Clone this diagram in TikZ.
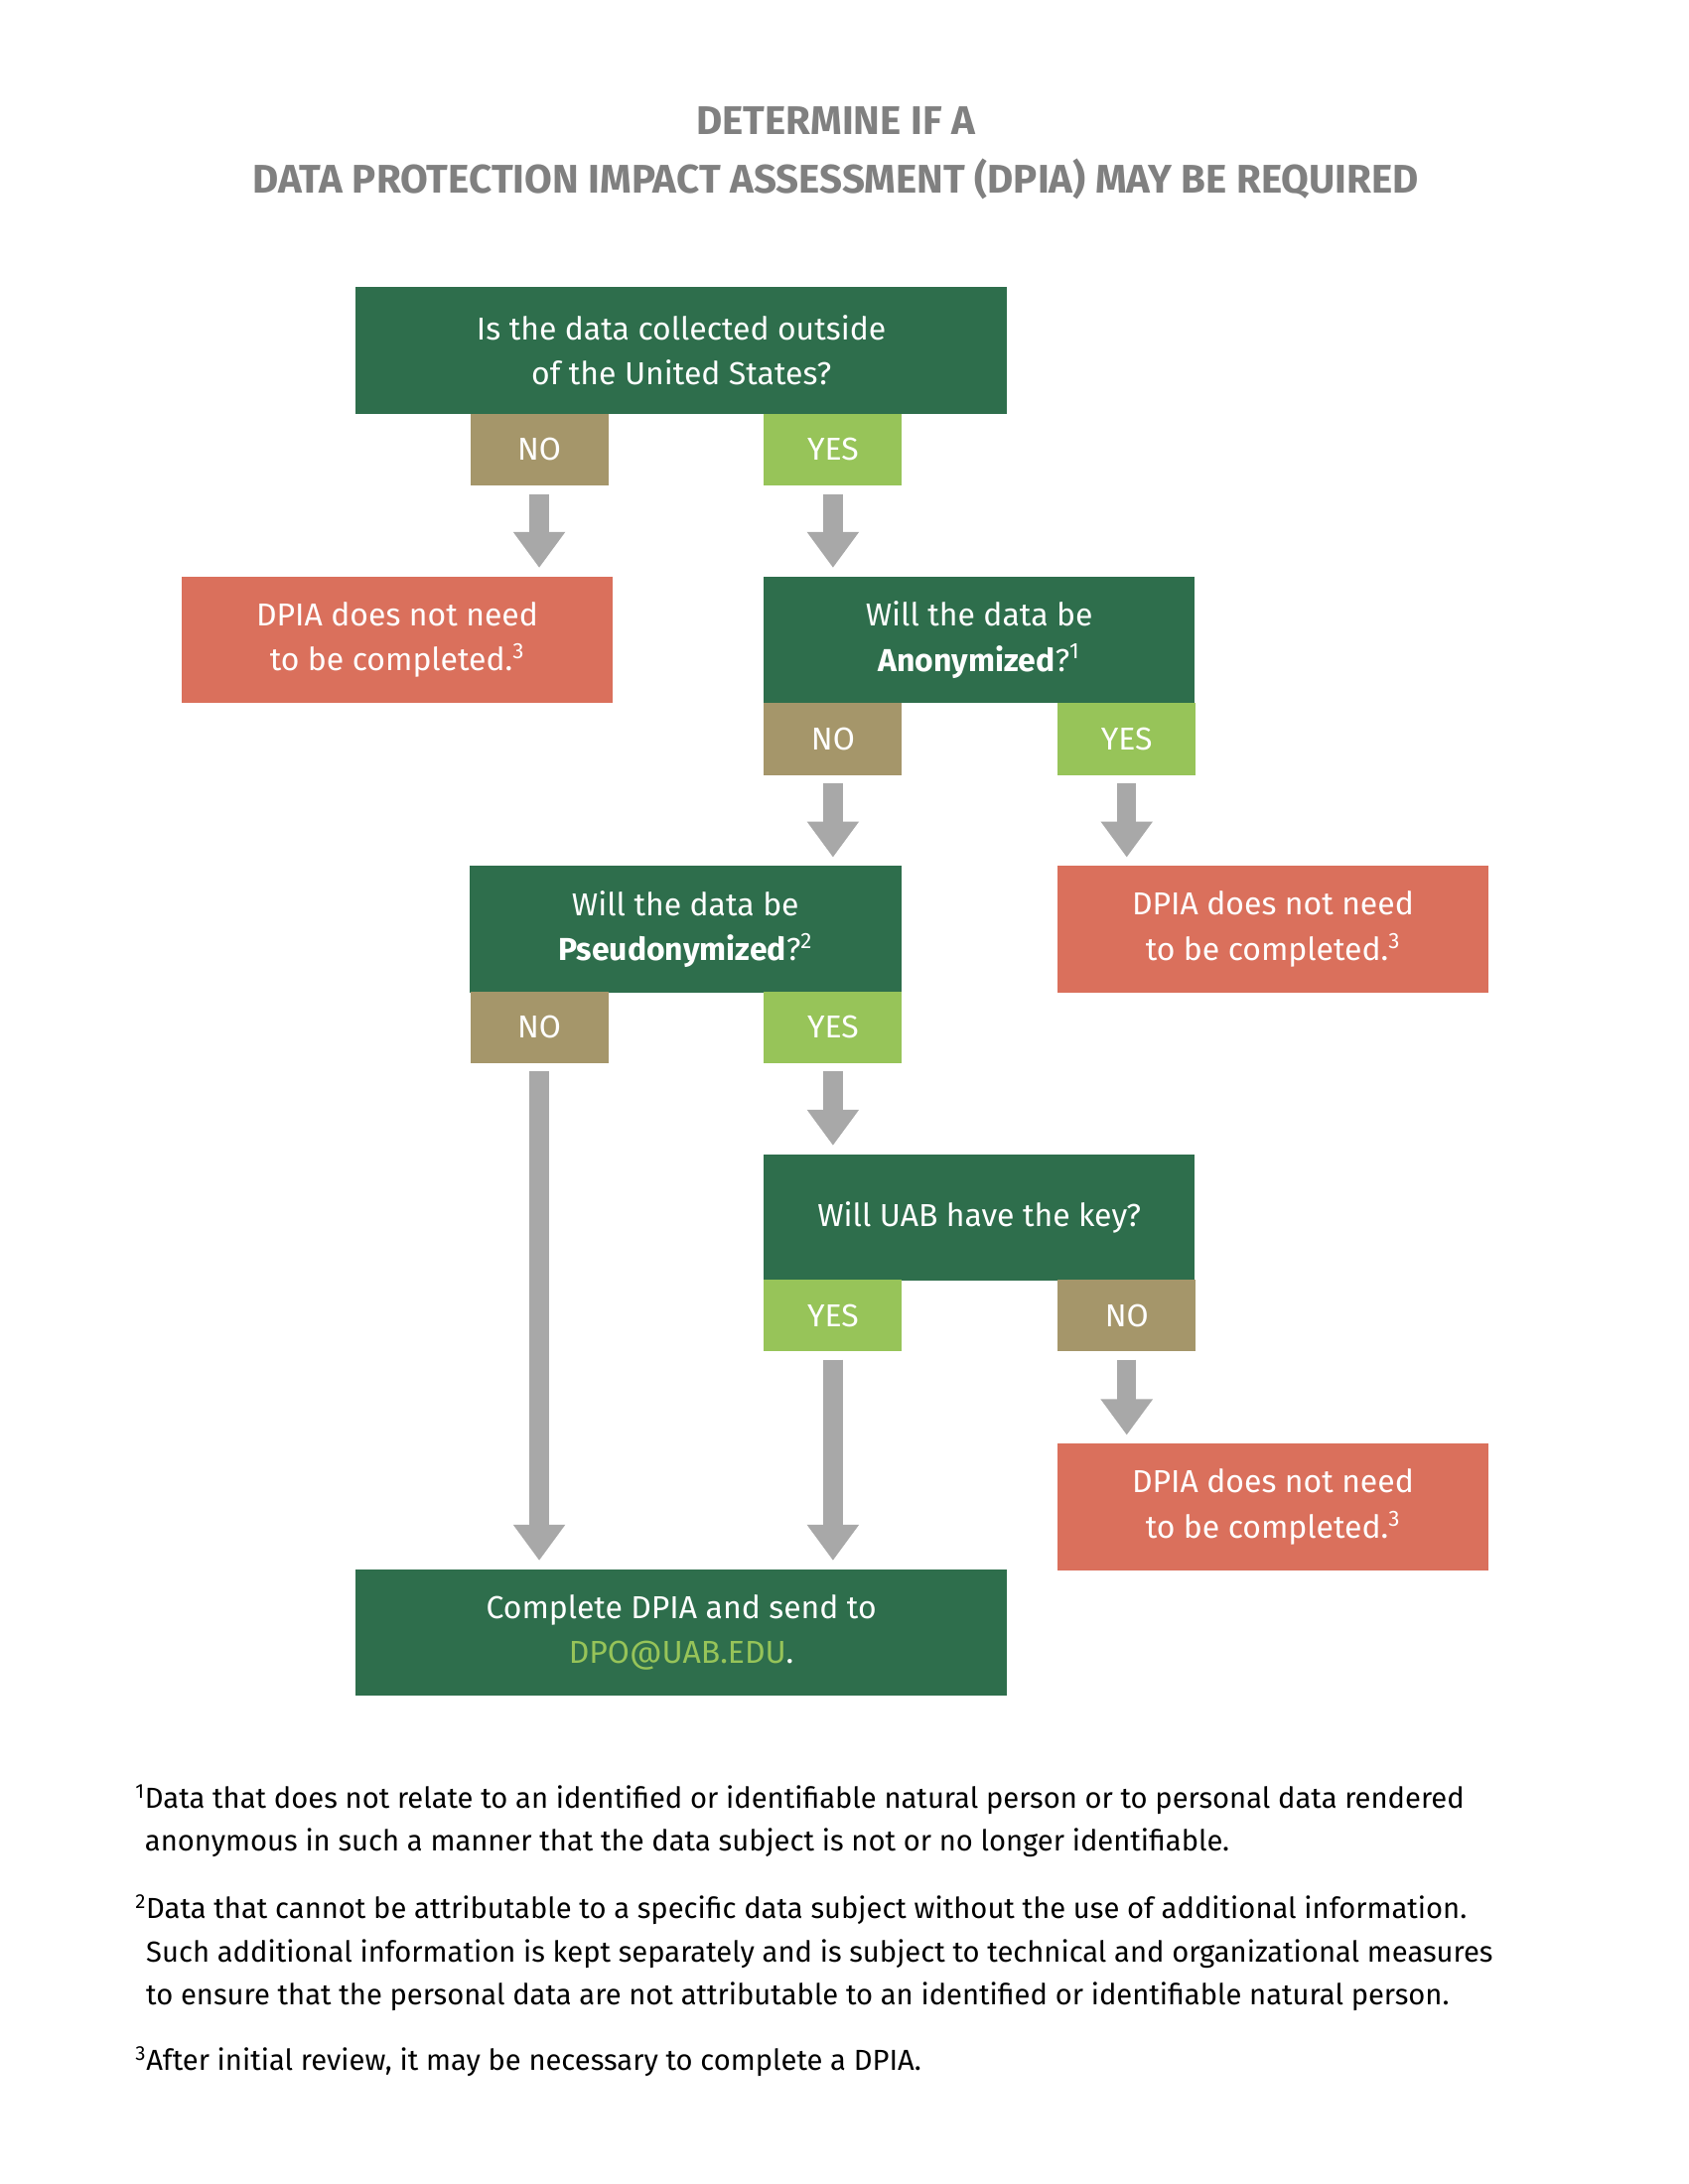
\documentclass[tikz,border=0pt]{standalone}
\usepackage{fontspec}
\setmainfont{Fira Sans}
\usepackage{tikz}
\usetikzlibrary{arrows.meta, positioning, calc}
\definecolor{deepgreen}{HTML}{2E6E4C}
\definecolor{tagtan}{HTML}{A5966A}
\definecolor{taglime}{HTML}{97C459}
\definecolor{stopred}{HTML}{DA705C}
\definecolor{arrowgray}{HTML}{A8A8A8}
\definecolor{titlegray}{HTML}{808080}

\begin{document}
\begin{tikzpicture}[x=1pt, y=-1pt,
    box/.style={rectangle, minimum width=472pt, minimum height=92pt, inner sep=0pt,
      fill=deepgreen, text=white, align=center, font=\fontsize{23}{33}\selectfont},
    ask/.style={box, minimum width=313pt},
    stop/.style={box, minimum width=313pt, fill=stopred},
    tag/.style={rectangle, minimum width=100pt, minimum height=52pt, inner sep=0pt,
      text=white, font=\fontsize{23}{26}\selectfont},
    no/.style={tag, fill=tagtan},
    yes/.style={tag, fill=taglime},
    flow/.style={arrowgray, line width=14pt, -{Triangle[width=36pt, length=26pt]},
      shorten <=6pt, shorten >=6pt},
    note/.style={anchor=north west, align=left, inner sep=0pt, font=\fontsize{21}{31}\selectfont}]

    \useasboundingbox (0,0) rectangle (1224,1584);

    % title
    \node (title) [font=\bfseries\fontsize{29}{42}\selectfont, text=titlegray, align=center] at (606,111)
      {DETERMINE IF A\\DATA PROTECTION IMPACT ASSESSMENT (DPIA) MAY BE REQUIRED};

    % questions
    \node (q1) [box] at (494,254) {Is the data collected outside\\of the United States?};
    \node (q1no) [no] at (391,326) {NO};
    \node (q1yes) [yes] at (604,326) {YES};
    \node (r1) [stop] at (288,464) {DPIA does not need\\to be completed.\textsuperscript{3}};

    \node (q2) [ask] at (710,464) {Will the data be\\\textbf{Anonymized}?\textsuperscript{1}};
    \node (q2no) [no] at (604,536) {NO};
    \node (q2yes) [yes] at (817,536) {YES};
    \node (r2) [stop] at (923,674) {DPIA does not need\\to be completed.\textsuperscript{3}};

    \node (q3) [ask] at (497,674) {Will the data be\\\textbf{Pseudonymized}?\textsuperscript{2}};
    \node (q3no) [no] at (391,745) {NO};
    \node (q3yes) [yes] at (604,745) {YES};

    \node (q4) [ask] at (710,883) {Will UAB have the key?};
    \node (q4yes) [yes] at (604,954) {YES};
    \node (q4no) [no] at (817,954) {NO};
    \node (r3) [stop] at (923,1093) {DPIA does not need\\to be completed.\textsuperscript{3}};

    \node (done) [box] at (494,1184) {Complete DPIA and send to\\\textcolor{taglime}{DPO@UAB.EDU}.};

    % arrows
    \foreach \a/\b in {q1no/r1, q1yes/q2, q2no/q3, q2yes/r2, q3no/done, q3yes/q4, q4yes/done, q4no/r3} {
      \draw [flow] (\a.south) -- (\a.south |- \b.north);
    }

    % footnotes
    \node (n1) [note] at (98,1294) {\textsuperscript{1}Data that does not relate to an identified or identifiable natural person or to personal data rendered\\\phantom{\textsuperscript{1}}anonymous in such a manner that the data subject is not or no longer identifiable.};
    \node (n2) [note] at (98,1374) {\textsuperscript{2}Data that cannot be attributable to a specific data subject without the use of additional information.\\\phantom{\textsuperscript{2}}Such additional information is kept separately and is subject to technical and organizational measures\\\phantom{\textsuperscript{2}}to ensure that the personal data are not attributable to an identified or identifiable natural person.};
    \node (n3) [note] at (98,1484) {\textsuperscript{3}After initial review, it may be necessary to complete a DPIA.};
\end{tikzpicture}
\end{document}
